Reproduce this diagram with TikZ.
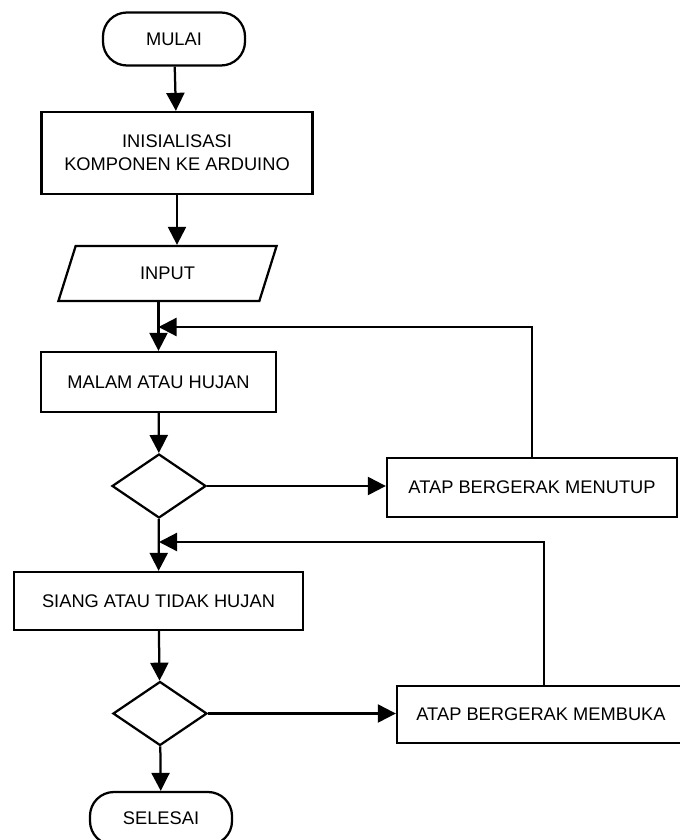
\documentclass[tikz,border=0pt]{standalone}
\usepackage{fontspec}
\setmainfont{Liberation Sans}
\usetikzlibrary{arrows.meta, positioning, shapes.geometric}

\begin{document}
\begin{tikzpicture}[
  x=0.025cm, y=-0.025cm,
  terminal/.style={
    rectangle, rounded corners=0.6cm,
    minimum width=3.55cm, minimum height=1.325cm,
    draw, line width=1.6pt, font=\fontsize{13}{16.5}\selectfont
  },
  process/.style={
    rectangle, align=center, inner sep=0pt,
    draw, line width=1.6pt, font=\fontsize{13}{16.5}\selectfont
  },
  io/.style={
    trapezium, trapezium left angle=68, trapezium right angle=112,
    trapezium stretches=true, inner sep=0pt,
    minimum width=5.475cm, minimum height=1.375cm,
    draw, line width=1.6pt, font=\fontsize{13}{16.5}\selectfont
  },
  decision/.style={
    diamond, minimum width=2.35cm, minimum height=1.6cm, inner sep=0pt,
    draw, line width=1.6pt
  },
  arrow/.style={-{Triangle[length=0.45cm, width=0.45cm]}, line width=1.6pt}
]
\useasboundingbox (0,0) rectangle (679,840);

% Nodes
\node[terminal] (mulai) at (174,39) {MULAI};
\node[process, minimum width=6.775cm, minimum height=2.05cm] (inis) at (177,153)
  {INISIALISASI\\KOMPONEN KE ARDUINO};
\node[io] (input) at (167.5,273.5) {INPUT};
\node[process, minimum width=5.875cm, minimum height=1.5cm] (malam) at (158.5,382)
  {MALAM ATAU HUJAN};
\node[decision] (d1) at (159,486) {};
\node[process, minimum width=7.25cm, minimum height=1.475cm] (tutup) at (532,487.5)
  {ATAP BERGERAK MENUTUP};
\node[process, minimum width=7.225cm, minimum height=1.45cm] (siang) at (158.5,601)
  {SIANG ATAU TIDAK HUJAN};
\node[decision] (d2) at (160,713.5) {};
\node[process, minimum width=7.2cm, minimum height=1.425cm] (buka) at (541,714.5)
  {ATAP BERGERAK MEMBUKA};
\node[terminal] (selesai) at (161,818.5) {SELESAI};

% Junctions of the loops
\coordinate (j1) at (158.5,327);
\coordinate (j2) at (159,542);

% Arrows
\draw[arrow] (mulai) -- (inis);
\draw[arrow] (inis.south) -- (inis.south |- input.north);
\draw[arrow] (malam.north |- input.south) -- (malam.north);
\draw[arrow] (malam) -- (d1);
\draw[arrow] (d1.east) -- (d1.east -| tutup.west);
\draw[arrow] (d1) -- (siang);
\draw[arrow] (siang) -- (d2);
\draw[arrow] (d2.east) -- (d2.east -| buka.west);
\draw[arrow] (d2) -- (selesai);

% Feedback arrows
\draw[arrow] (tutup.north) |- (j1);
\draw[arrow] ([xshift=0.075cm]buka.north) |- (j2);

\end{tikzpicture}
\end{document}
